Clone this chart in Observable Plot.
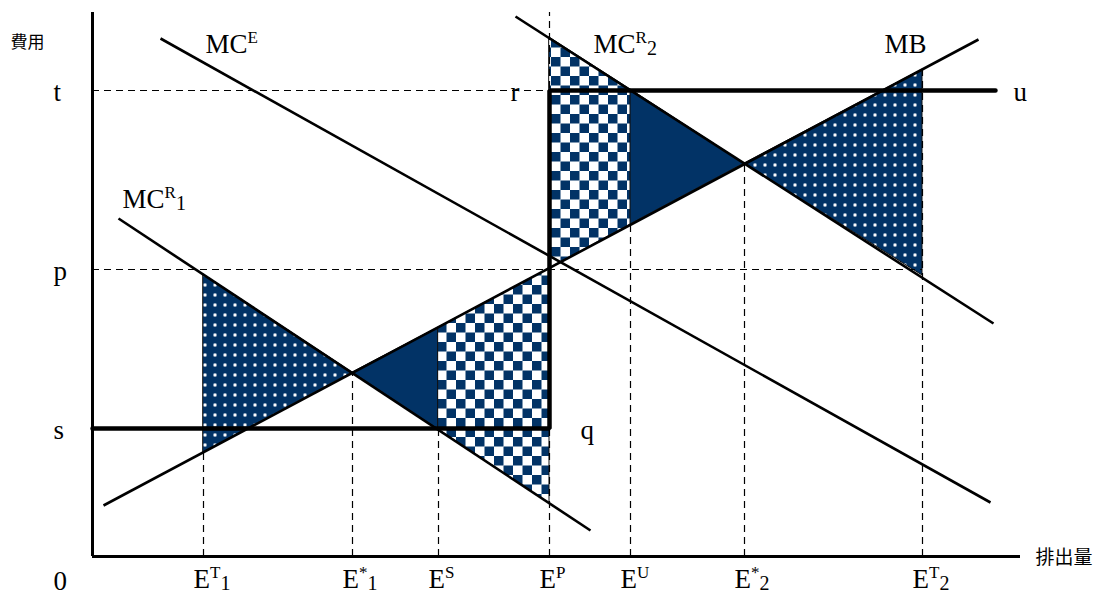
<!DOCTYPE html>
<html><head><meta charset="utf-8">
<script src="https://cdn.jsdelivr.net/npm/d3@7"></script>
<script src="https://cdn.jsdelivr.net/npm/@observablehq/plot@0.6"></script>
<style>html,body{margin:0;padding:0;background:#fff;} svg{display:block}</style>
</head><body><div id="chart"></div>
<script>
// ---- curves (endpoints, in chart units: emission on x, cost on y)
const curveNames = ["MB", "MCR1", "MCR2", "MCE"];
const curveX1 = [11, 26, 423, 68];
const curveY1 = [51, 338, 540, 518];
const curveX2 = [886, 498, 901, 898];
const curveY2 = [517, 26, 233, 54];

// ---- emission levels on the x axis
const xTickValues = [111, 260, 346, 457, 538, 652, 830];
const xTickMain = ["E", "E", "E", "E", "E", "E", "E"];
const xTickSup = ["T", "*", "S", "P", "U", "*", "T"];
const xTickSub = ["1", "1", "", "", "", "2", "2"];
const xGuideTop = [104, 184, 128, 544, 332, 393, 487];

// ---- cost levels
const priceNames = ["t", "p", "s"];
const priceValues = [466, 287, 128];
const priceGuideNames = ["t", "p"];
const priceGuideValues = [466, 287];
const priceGuideEnd = [457, 830];

// ---- hybrid schedule s-q-r-u
const hybridX = [0, 457, 457, 903];
const hybridY = [128, 128, 466, 466];
const hybridLabels = ["q", "r", "u"];
const hybridLabelX = [457, 457, 903];
const hybridLabelY = [128, 466, 466];

// ---- shaded regions
const regionNames = ["dotsLeft", "solidLeft", "checkLower", "checkUpper", "solidUpper", "dotsRight"];
const regionKind = ["dots", "navy", "checker", "checker", "navy", "dots"];
const regionX = [[111, 260], [260, 346], [346, 457], [457, 538], [538, 652], [652, 830]];
const regionLow = [[104, 184], [184, 127], [127, 53], [288, 332], [332, 393], [393, 281]];
const regionHigh = [[282, 184], [184, 229], [229, 288], [519, 467], [467, 393], [393, 487]];

// ---- curve labels
const curveLabelMain = ["MB", "MC", "MC", "MC"];
const curveLabelSup = ["", "R", "R", "E"];
const curveLabelSub = ["", "1", "2", ""];

const NAVY = "#023366";
const SERIF = "'Liberation Serif', 'Times New Roman', serif";
const CJK = "'Noto Sans CJK JP', 'Noto Sans CJK SC', sans-serif";

const rows = regionNames.flatMap((n, i) => regionX[i].map((x, j) => ({name: n, kind: regionKind[i], x, lo: regionLow[i][j], hi: regionHigh[i][j]})));
const fills = {dots: "url(#dots)", navy: NAVY, checker: "url(#checker)"};
const areaMarks = Object.keys(fills).map(k =>
  Plot.areaY(rows.filter(r => r.kind === k), {x: "x", y1: "lo", y2: "hi", z: "name", fill: fills[k], stroke: "#111", strokeWidth: 1})
);

const curveEnd = (i, end) => end ? {x: curveX2[i], y: curveY2[i]} : {x: curveX1[i], y: curveY1[i]};
const curveLabelPlace = [
  {i: 3, end: false, dx: 45, dy: 14},
  {i: 1, end: false, dx: 4, dy: -11},
  {i: 2, end: false, dx: 78, dy: 36},
  {i: 0, end: true, dx: -94, dy: 13}
];

const supGroups = [];
const textMarks = [];
textMarks.push(Plot.text(xTickValues, {x: d => d, y: () => 0, text: (d, i) => xTickMain[i], textAnchor: "start", lineAnchor: "bottom", dx: -10, dy: 31, fontSize: 27, fontFamily: SERIF, fill: "black"}));
supGroups.push({sup: xTickSup, sub: xTickSub});
for (const p of curveLabelPlace) {
  const a = curveEnd(p.i, p.end);
  textMarks.push(Plot.text([a], {x: "x", y: "y", text: () => curveLabelMain[p.i], textAnchor: "start", lineAnchor: "bottom", dx: p.dx, dy: p.dy, fontSize: 27, fontFamily: SERIF, fill: "black"}));
  supGroups.push({sup: [curveLabelSup[p.i]], sub: [curveLabelSub[p.i]]});
}

const svg = Plot.plot({
  width: 1098, height: 596,
  marginLeft: 92, marginRight: 78, marginTop: 12, marginBottom: 40,
  x: {domain: [0, 928], axis: null},
  y: {domain: [0, 544], axis: null},
  style: {background: "white"},
  marks: [
    ...areaMarks,
    Plot.ruleX(xTickValues, {x: d => d, y1: () => 0, y2: (d, i) => xGuideTop[i], stroke: "black", strokeWidth: 1.2, strokeDasharray: "7,5"}),
    Plot.ruleY(priceGuideValues, {y: d => d, x1: () => 0, x2: (d, i) => priceGuideEnd[i], stroke: "black", strokeWidth: 1.2, strokeDasharray: "7,5"}),
    Plot.link(curveNames, {x1: (d, i) => curveX1[i], y1: (d, i) => curveY1[i], x2: (d, i) => curveX2[i], y2: (d, i) => curveY2[i], stroke: "black", strokeWidth: 2.6}),
    Plot.line(hybridX.map((x, i) => ({x, y: hybridY[i]})), {x: "x", y: "y", stroke: "black", strokeWidth: 4.5, strokeLinejoin: "miter"}),
    Plot.ruleX([0], {x: d => d, y1: () => 0, y2: () => 544, stroke: "black", strokeWidth: 3}),
    Plot.ruleY([0], {y: d => d, x1: () => 0, x2: () => 928, stroke: "black", strokeWidth: 3}),
    ...textMarks,
    Plot.text(priceNames, {x: () => 0, y: (d, i) => priceValues[i], text: d => d, textAnchor: "start", lineAnchor: "bottom", dx: -39, dy: 10, fontSize: 27, fontFamily: SERIF, fill: "black"}),
    Plot.text(["0"], {x: () => 0, y: () => 0, text: d => d, textAnchor: "start", lineAnchor: "bottom", dx: -39, dy: 33, fontSize: 27, fontFamily: SERIF, fill: "black"}),
    Plot.text(hybridLabels, {x: (d, i) => hybridLabelX[i], y: (d, i) => hybridLabelY[i], text: d => d, textAnchor: "start", lineAnchor: "bottom", dy: 10, fontSize: 27, fontFamily: SERIF, fill: "black"}),
    Plot.text(["費用"], {x: () => 0, y: () => 544, text: d => d, textAnchor: "start", lineAnchor: "middle", dx: -82, dy: 30, fontSize: 17, fontFamily: CJK, fill: "black"}),
    Plot.text(["排出量"], {x: () => 928, y: () => 0, text: d => d, textAnchor: "start", lineAnchor: "middle", dx: 15, dy: 1, fontSize: 19, fontFamily: CJK, fill: "black"})
  ]
});

const defs = d3.select(svg).insert("defs", ":first-child");
const dots = defs.append("pattern").attr("id", "dots").attr("patternUnits", "userSpaceOnUse").attr("width", 10).attr("height", 10);
dots.append("rect").attr("width", 10).attr("height", 10).attr("fill", NAVY);
dots.append("circle").attr("cx", 5).attr("cy", 5).attr("r", 2).attr("fill", "#8fa6c0");
dots.append("circle").attr("cx", 5).attr("cy", 5).attr("r", 1.2).attr("fill", "#ffffff");
const ch = defs.append("pattern").attr("id", "checker").attr("patternUnits", "userSpaceOnUse").attr("width", 19).attr("height", 19);
ch.append("rect").attr("width", 19).attr("height", 19).attr("fill", "white");
ch.append("rect").attr("x", 0).attr("y", 0).attr("width", 9.5).attr("height", 9.5).attr("fill", NAVY);
ch.append("rect").attr("x", 9.5).attr("y", 9.5).attr("width", 9.5).attr("height", 9.5).attr("fill", NAVY);

const groups = d3.select(svg).selectAll('g[aria-label="text"]').nodes();
supGroups.forEach((spec, gi) => {
  const g = groups[gi];
  if (!g) return;
  d3.select(g).selectAll("text").each(function(_, j) {
    const t = d3.select(this);
    const sup = spec.sup[j], sub = spec.sub[j];
    let shift = 0;
    if (sup) { t.append("tspan").attr("dy", -10).attr("font-size", 17).text(sup); shift = 10; }
    if (sub) { t.append("tspan").attr("dy", shift + 2).attr("font-size", 20).text(sub); }
  });
});

const hl = groups[groups.length - 3];
if (hl) {
  const offs = [31, -39, 18];
  d3.select(hl).selectAll("text").each(function(_, j) { d3.select(this).attr("dx", offs[j]); });
}

document.getElementById("chart").appendChild(svg);
</script>
</body></html>
